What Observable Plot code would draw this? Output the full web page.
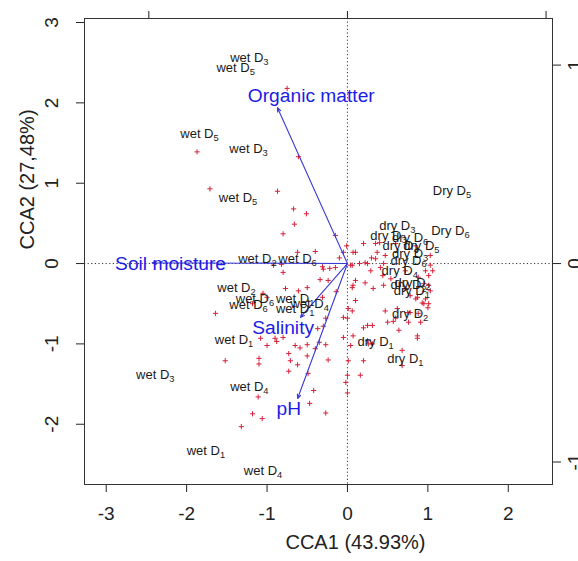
<!DOCTYPE html>
<html>
<head>
<meta charset="utf-8">
<script src="https://cdn.jsdelivr.net/npm/d3@7"></script>
<script src="https://cdn.jsdelivr.net/npm/@observablehq/plot@0.6"></script>
<style>
  html, body { margin: 0; padding: 0; background: #fff; }
  #chart svg { display: block; }
</style>
</head>
<body>
<div id="chart"></div>
<script>
// ---- data ----
const ptX = [-0.75,-1.87,-0.61,-1.71,-0.87,-0.67,-0.51,-0.66,-0.80,-0.15,-0.01,-0.05,-0.40,-0.62,-0.10,0.07,-0.92,-0.82,-0.80,-0.31,-0.30,-0.22,-0.15,0.04,-0.34,-0.50,-0.24,-0.77,-0.61,0.06,0.10,-1.05,-1.18,-1.64,-1.00,-1.08,-1.00,-0.90,-0.80,-0.88,-0.65,-0.59,-0.50,-0.40,-0.35,-0.27,-0.37,-0.30,-0.27,-1.52,-1.10,-1.10,-0.73,-0.62,-0.71,-0.50,-0.24,-0.73,-0.49,-1.11,-0.42,-0.47,-0.27,-1.18,-1.06,-1.32,0.00,-0.02,0.00,0.06,0.00,-0.05,0.20,0.10,0.06,0.15,0.25,0.30,0.35,0.37,0.40,0.29,0.41,0.45,0.32,0.07,0.54,0.72,0.88,0.95,1.01,1.03,0.97,0.87,0.97,0.95,1.00,0.88,0.91,0.47,0.62,0.75,0.50,0.60,0.64,0.25,0.31,0.20,0.07,0.25,0.26,0.87,0.87,0.68,0.20,0.01,-0.05,0.78,0.57,0.76,0.04,0.31,0.68,0.01,0.16,0.47,0.22,0.45,1.06,1.01,0.22,0.44,0.78,0.85,0.93,1.01,1.03,0.35,-0.14,-0.31,0.60,0.85,1.03,0.72,0.10];
const ptY = [2.18,1.39,1.33,0.93,0.90,0.68,0.62,0.49,0.37,0.35,0.22,0.14,0.15,0.14,0.07,0.14,-0.02,-0.01,-0.11,-0.04,-0.07,-0.06,-0.05,-0.02,-0.20,-0.30,-0.21,-0.31,-0.34,-0.30,-0.21,-0.37,-0.50,-0.62,-0.42,-0.93,-1.02,-0.93,-0.92,-0.97,-1.02,-1.05,-1.01,-1.06,-0.98,-1.01,-0.81,-0.78,-0.68,-1.21,-1.18,-1.25,-1.12,-1.26,-1.21,-1.15,-1.20,-1.34,-1.37,-1.66,-1.58,-1.74,-1.86,-1.87,-1.93,-2.03,-1.39,-1.48,-1.61,-0.59,-0.68,-0.67,0.25,0.14,-0.02,0.00,0.00,0.07,0.06,0.14,0.26,-0.09,-0.05,-0.27,-0.31,-0.27,-0.19,-0.31,-0.17,-0.25,-0.27,-0.02,-0.09,-0.42,-0.44,-0.50,-0.55,-0.62,-0.73,-0.59,-0.56,-0.61,-0.73,-0.68,-0.83,-0.77,-0.77,-0.80,-0.90,-0.96,-1.00,-0.90,-0.93,-1.08,-1.21,-1.21,-0.92,-0.61,-0.72,-0.73,-1.02,-1.00,-1.27,-0.56,-1.39,0.10,0.01,0.00,-0.09,-0.15,-0.24,-0.15,-0.40,-0.44,-0.49,-0.50,-0.34,0.25,-0.35,-0.42,0.25,0.22,0.10,-0.09,-0.46];

const siteLabels = ["wet D_3","wet D_5","wet D_5","wet D_3","wet D_5","wet D_2","wet D_6","wet D_2","wet D_6","wet D_6","wet D_1","wet D_4","wet D_1","wet D_1","wet D_3","wet D_4","wet D_1","wet D_4",
  "Dry D_5","Dry D_6","dry D_3","dry D_3","dry D_6","dry D_4","dry D_5","dry D_3","dry D_6","dry D_4","dry D_2","dry D_2","dry D_1","dry D_2","dry D_1","dry D_1"];
const siteX = [-1.22,-1.39,-1.84,-1.23,-1.36,-1.12,-0.62,-1.38,-1.15,-1.23,-0.65,-0.47,-0.65,-1.41,-2.39,-1.22,-1.76,-1.05,
  1.30,1.28,0.62,0.51,0.78,0.66,0.92,0.78,0.76,0.65,0.81,0.76,0.80,0.78,0.35,0.72];
const siteY = [2.56,2.43,1.62,1.43,0.82,0.06,0.06,-0.30,-0.44,-0.51,-0.44,-0.50,-0.56,-0.95,-1.38,-1.53,-2.33,-2.58,
  0.91,0.41,0.47,0.35,0.32,0.22,0.22,0.12,0.04,-0.09,-0.24,-0.27,-0.34,-0.62,-0.98,-1.18];

const envNames = ["Organic matter","Soil moisture","Salinity","pH"];
const envX = [-0.87,-2.43,-0.585,-0.62];
const envY = [1.94,0.01,-0.67,-1.68];
const envLabelX = [-0.45,-2.20,-0.80,-0.73];
const envLabelY = [2.09,0.00,-0.80,-1.81];

const xTicks = [-3,-2,-1,0,1,2];
const yTicks = [-2,-1,0,1,2,3];
const topTicks = [-2.47,0,2.47];
const rightTicks = [-2.47,0,2.47];
const rightTickLabels = ["-1","0","1"];

const xTitle = "CCA1 (43.93%)";
const yTitle = "CCA2 (27,48%)";

// ---- tables for Plot ----
const points = ptX.map((x,i) => ({x, y: ptY[i]}));
const sites = siteLabels.map((t,i) => ({t, x: siteX[i], y: siteY[i]}));
const env = envNames.map((n,i) => ({n, x: envX[i], y: envY[i], lx: envLabelX[i], ly: envLabelY[i]}));

const plusSymbol = {
  draw(ctx, size) {
    const r = Math.sqrt(size / Math.PI);
    ctx.moveTo(-r, 0); ctx.lineTo(r, 0);
    ctx.moveTo(0, -r); ctx.lineTo(0, r);
  }
};

const blueLine = "#3a3ad8";
const blueText = "#1c1ce6";

const svg = Plot.plot({
  width: 578,
  height: 561,
  marginLeft: 84,
  marginRight: 26,
  marginTop: 18,
  marginBottom: 77,
  style: {fontFamily: "'Liberation Sans', Arial, sans-serif", background: "#fff", color: "#222"},
  x: {domain: [-3.27, 2.55]},
  y: {domain: [-2.75, 3.05]},
  marks: [
    Plot.ruleX([0], {stroke: "#333", strokeDasharray: "1.2,2.4"}),
    Plot.ruleY([0], {stroke: "#333", strokeDasharray: "1.2,2.4"}),
    Plot.dot(points, {x: "x", y: "y", symbol: plusSymbol, r: 2.6, stroke: "#d8203a", fill: "none", strokeWidth: 1}),
    Plot.arrow(env, {x1: () => 0, y1: () => 0, x2: "x", y2: "y", stroke: blueLine, strokeWidth: 1.1, headLength: 6, headAngle: 45}),
    Plot.text(sites, {x: "x", y: "y", text: "t", fontSize: 13, fill: "#1a1a1a", textAnchor: "middle"}),
    Plot.text(env, {x: "lx", y: "ly", text: "n", fontSize: 19.2, fill: blueText, textAnchor: "middle"}),
    Plot.axisX({ticks: xTicks, tickSize: 8, tickPadding: 14, fontSize: 19, label: null, tickFormat: d => String(d)}),
    Plot.axisY({ticks: yTicks, tickSize: 8, tickPadding: 19, tickRotate: -90, fontSize: 19, label: null, tickFormat: d => String(d)}),
    Plot.axisX({anchor: "top", ticks: topTicks, tickSize: 8, label: null, tickFormat: () => ""}),
    Plot.axisY({anchor: "right", ticks: rightTicks, tickSize: 8, tickPadding: 20, tickRotate: -90, fontSize: 19, label: null,
      tickFormat: d => rightTickLabels[rightTicks.indexOf(d)]}),
    Plot.text([xTitle], {frameAnchor: "bottom", text: d => d, dy: 64, dx: 37, fontSize: 20, fill: "#222"}),
    Plot.text([yTitle], {frameAnchor: "left", text: d => d, rotate: -90, dx: -57, dy: -2, fontSize: 20, fill: "#222"}),
    Plot.frame({stroke: "#333", strokeWidth: 1})
  ]
});

// subscripts for site labels ("wet D_3" -> "wet D" + subscript 3)
d3.select(svg).selectAll("text").each(function() {
  const t = this.textContent;
  const m = t.match(/^(.*)_(\d)$/);
  if (m) {
    this.textContent = m[1];
    d3.select(this).append("tspan").attr("dy", "0.32em").attr("font-size", "0.72em").text(m[2]);
  }
});

document.getElementById("chart").appendChild(svg);
</script>
</body>
</html>
